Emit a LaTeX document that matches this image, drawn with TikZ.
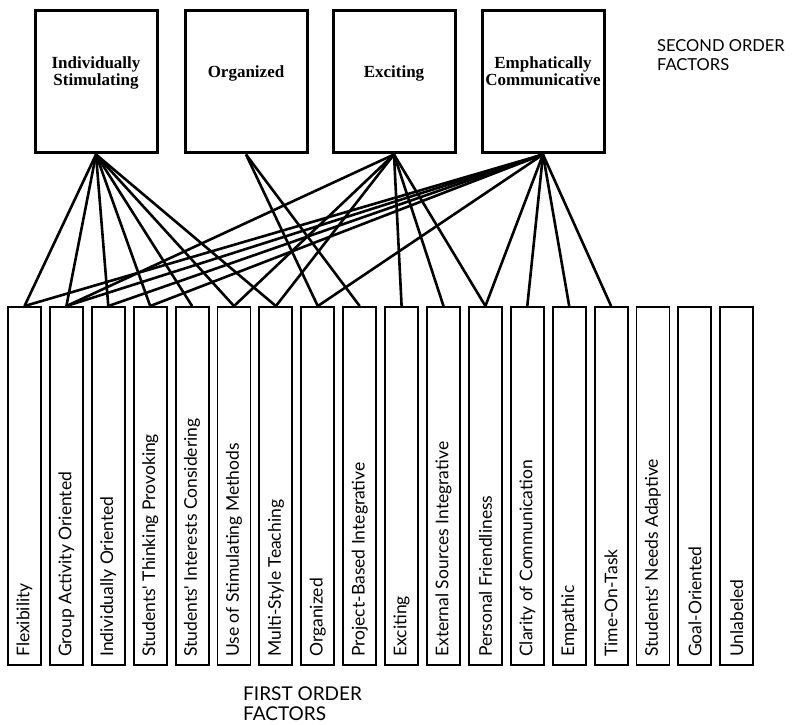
\documentclass[tikz,border=0pt]{standalone}
\usepackage{fontspec}
\setmainfont{Liberation Serif}
\newfontfamily\labelfont{Lato}
\begin{document}
\begin{tikzpicture}[
  x=1pt, y=1pt,
  every node/.style={align=center},
  secbox/.style={rectangle, draw, line width=3pt, minimum width=122pt, minimum height=142pt, font=\bfseries\fontsize{17}{17}\selectfont, inner sep=1pt},
  firstbox/.style={rectangle, draw, line width=1.9pt, minimum width=33pt, minimum height=358pt},
  firstlab/.style={rotate=90, anchor=west, inner sep=0pt, font=\labelfont\fontsize{17.5}{18}\selectfont},
  headlab/.style={anchor=north west, align=left, inner sep=0pt, font=\labelfont\fontsize{19}{20}\selectfont},
  load/.style={line width=2.6pt}
]
\useasboundingbox (0,0) rectangle (795,724);
% Second order factors
\node[secbox] (is) at (96,642) {Individually\\Stimulating\\[4pt]};
\node[secbox] (org) at (246,642) {Organized\\[4pt]};
\node[secbox] (exc) at (394,642) {Exciting\\[4pt]};
\node[secbox] (ec) at (543,642) {Emphatically\\Communicative\\[4pt]};
\node[headlab, font=\labelfont\fontsize{16.5}{19}\selectfont] (sec) at (657,685) {SECOND ORDER\\FACTORS};
% First order factors
\foreach \lab [count=\i] in {Flexibility, Group Activity Oriented, Individually Oriented,
  Students' Thinking Provoking, Students' Interests Considering, Use of Stimulating Methods,
  Multi-Style Teaching, Organized, Project-Based Integrative, Exciting,
  External Sources Integrative, Personal Friendliness, Clarity of Communication, Empathic,
  Time-On-Task, Students' Needs Adaptive, Goal-Oriented, Unlabeled} {
  \node[firstbox] (f\i) at ({24.5+41.9*(\i-1)},238) {};
  \node[firstlab] (l\i) at ([yshift=9pt]f\i.south) {\lab};
}
\node[headlab] (fir) at (243,37) {FIRST ORDER\\FACTORS};
% Loadings
\foreach \j in {1,...,7} \draw[load] (is.south) -- (f\j.north);
\foreach \j in {8,9} \draw[load] (org.south) -- (f\j.north);
\foreach \j in {2,6,7,10,11,12} \draw[load] (exc.south) -- (f\j.north);
\foreach \j in {1,2,3,4,8,12,13,14,15} \draw[load] (ec.south) -- (f\j.north);
\end{tikzpicture}
\end{document}
